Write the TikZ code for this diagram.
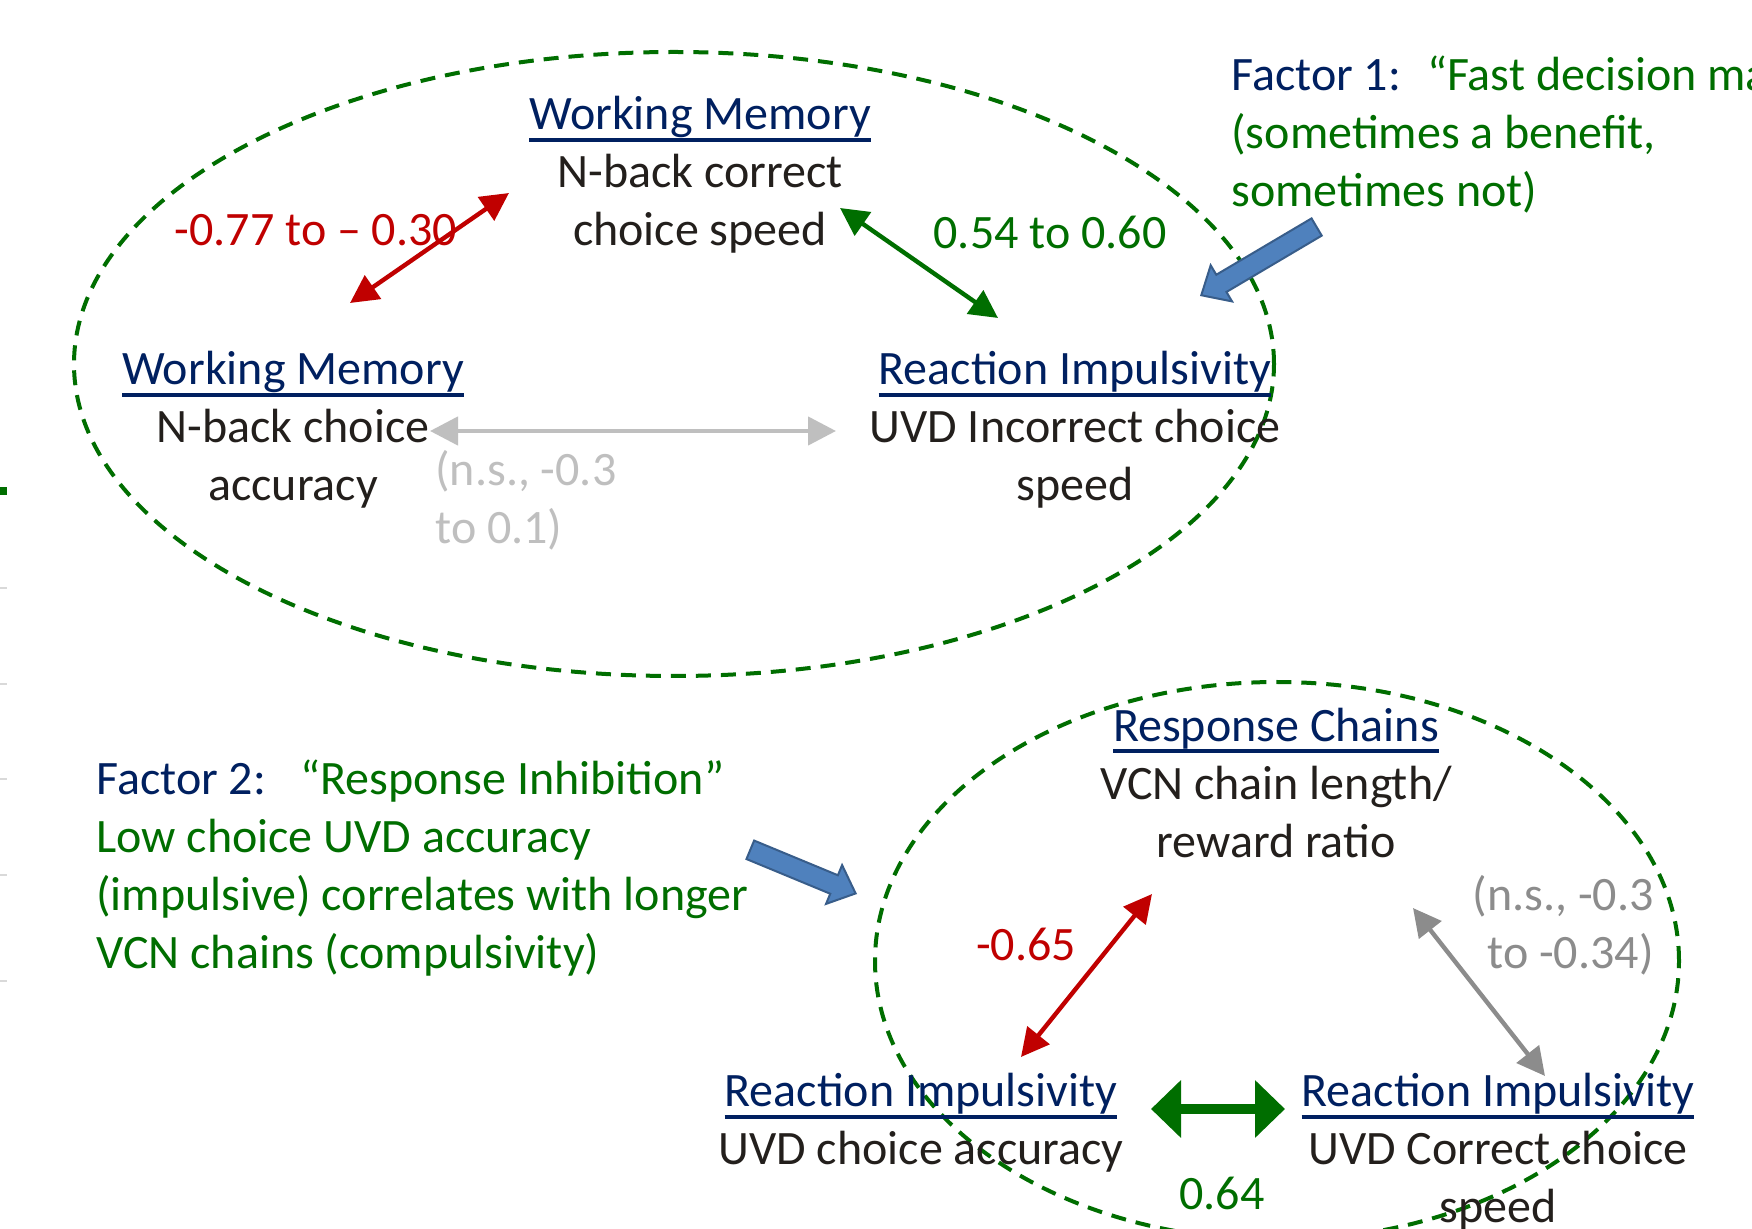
\documentclass[tikz,border=0pt]{standalone}
\usepackage{fontspec}
\setmainfont{Carlito}
\usetikzlibrary{arrows.meta,shapes.arrows}
\definecolor{navy}{RGB}{0,32,96}
\definecolor{txt}{RGB}{35,31,28}
\definecolor{fgreen}{RGB}{0,110,0}
\definecolor{fred}{RGB}{192,0,0}
\definecolor{lgrey}{RGB}{191,191,191}
\definecolor{mgrey}{RGB}{140,140,140}
\definecolor{ablue}{RGB}{79,129,189}
\definecolor{ablueedge}{RGB}{56,93,138}
\newsavebox{\headbox}
\newcommand{\heading}[1]{\textcolor{navy}{\sbox{\headbox}{#1}%
  \rlap{\rule[-6pt]{\wd\headbox}{2pt}}\usebox{\headbox}}}
\tikzset{
  basic/.style  = {inner sep=0pt, font=\fontsize{24}{29}\selectfont},
  block/.style  = {basic, align=center, text=txt},
  note/.style   = {basic, align=left, text=fgreen},
  corr/.style   = {basic},
  link/.style   = {<->, line width=2.2pt},
  factor/.style = {draw=fgreen, line width=2pt, dash pattern=on 7.5pt off 5pt},
  fat arrow/.style = {single arrow, draw=ablueedge, fill=ablue, line width=1pt,
                   inner xsep=0pt, inner ysep=4.5pt, minimum width=0pt,
                   single arrow head extend=5.5pt, single arrow tip angle=84,
                   anchor=tip}
}

\begin{document}
\begin{tikzpicture}[
  x=0.5pt, y=-0.5pt,
  >={Triangle[length=14pt,width=14pt]}]

\useasboundingbox (0,0) rectangle (1752,1229);
\fill[white] (0,0) rectangle (1752,1229);
\clip (0,0) rectangle (1752,1229);

% marks on the left edge
\fill[fgreen] (0,487) rectangle (7,495);
\foreach \y in {588,684,779,875,981}
  \draw[gray!30, line width=1pt] (0,\y) -- (7,\y);

% factor 1, the upper group
\draw[factor] (674,364) ellipse [x radius=300pt, y radius=156pt];
\node[block] (wmTop) at (700,175) {\heading{Working Memory}\\N-back correct\\choice speed};
\node[block] (wmLeft) at (293,430) {\heading{Working Memory}\\N-back choice\\accuracy};
\node[block] (riTop) at (1075,430) {\heading{Reaction Impulsivity}\\UVD Incorrect choice\\speed};

\coordinate (wmLeft-ne) at (350,303);
\coordinate (wmTop-sw) at (509,193);
\coordinate (wmTop-se) at (840,208);
\coordinate (riTop-nw) at (998,318);
\coordinate (wmLeft-e) at (430,431);
\coordinate (riTop-w) at (836,431);

\draw[link, fred] (wmLeft-ne) -- (wmTop-sw);
\draw[link, fgreen] (wmTop-se) -- (riTop-nw);
\draw[link, lgrey] (wmLeft-e) -- (riTop-w);

\node[corr, text=fred] (r1) at (316,230) {-0.77 to – 0.30};
\node[corr, text=fgreen] (g1) at (1050,232) {0.54 to 0.60};
\node[corr, text=lgrey, align=left, anchor=west] (ns1) at (435,500) {(n.s., -0.3\\to 0.1)};

\node[note, anchor=west] (f1) at (1231,135) {\textcolor{navy}{Factor 1:}\hspace{13pt}“Fast decision making”\\(sometimes a benefit,\\sometimes not)};
\node[fat arrow, rotate=210.6, minimum height=67pt] (f1tip) at (1200,296) {};

% factor 2, the lower group
\draw[factor] (1277,961) ellipse [x radius=201pt, y radius=139.5pt];
\node[block] (rc) at (1276,783) {\heading{Response Chains}\\VCN chain length/\\reward ratio};
\node[block] (riAcc) at (921,1123) {\heading{Reaction Impulsivity}\\UVD choice accuracy};
\node[block] (riCor) at (1498,1152) {\heading{Reaction Impulsivity}\\UVD Correct choice\\speed};

\coordinate (rc-sw) at (1152,894);
\coordinate (riAcc-n) at (1021,1057);
\coordinate (rc-se) at (1413,908);
\coordinate (riCor-n) at (1545,1076);
\coordinate (riAcc-e) at (1151,1109);
\coordinate (riCor-w) at (1285,1109);

\draw[link, fred] (rc-sw) -- (riAcc-n);
\draw[link, mgrey] (rc-se) -- (riCor-n);
\draw[<->, fgreen, line width=5pt, >={Triangle[length=15pt,width=28pt]}] (riAcc-e) -- (riCor-w);

\node[corr, text=fred] (r2) at (1026,944) {-0.65};
\node[corr, text=mgrey, align=right, anchor=east] (ns2) at (1654,925) {(n.s., -0.3\\to -0.34)};
\node[corr, text=fgreen] (g2) at (1222,1193) {0.64};

\node[note, anchor=west] (f2) at (96,868) {\textcolor{navy}{Factor 2:}\hspace{17pt}“Response Inhibition”\\Low choice UVD accuracy\\(impulsive) correlates with longer\\VCN chains (compulsivity)};
\node[fat arrow, rotate=-22.5, minimum height=57pt] (f2tip) at (857,894) {};

\end{tikzpicture}
\end{document}
